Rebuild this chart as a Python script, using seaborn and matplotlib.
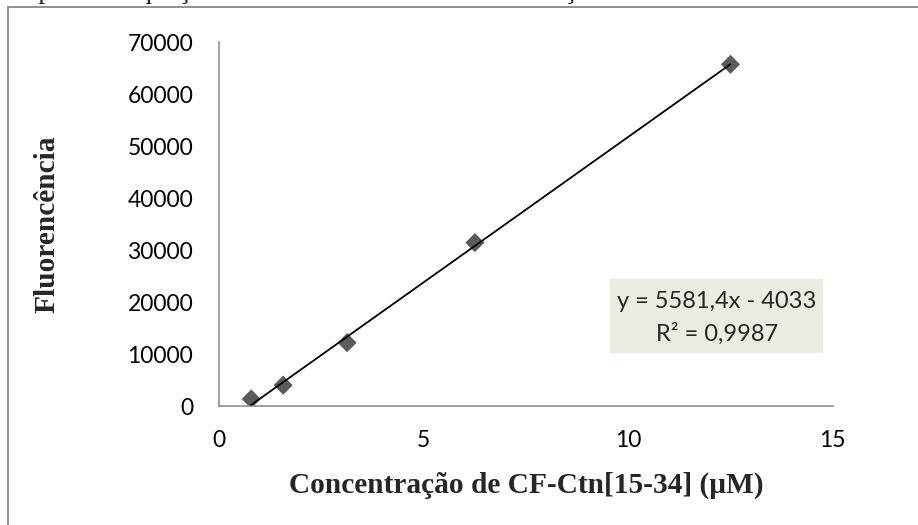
import matplotlib
matplotlib.use("Agg")
import matplotlib.pyplot as plt
import seaborn as sns
import pandas as pd
from matplotlib.patches import Rectangle
from matplotlib.lines import Line2D

# ---- data ----
concentration = [0.78125, 1.5625, 3.125, 6.25, 12.5]
fluorescence = [1400, 4060, 12240, 31470, 65760]
x_ticks = [0, 5, 10, 15]
y_ticks = [0, 10000, 20000, 30000, 40000, 50000, 60000, 70000]
x_label = "Concentração de CF-Ctn[15-34] (μM)"
y_label = "Fluorencência"
equation_text = "y = 5581,4x - 4033"
r2_text = "R² = 0,9987"
caption_text = "respectiva equação da reta e coeficiente de correlação linear."

df = pd.DataFrame({"x": concentration, "y": fluorescence})

sns.set_style("white")
plt.rcParams["font.family"] = ["Lato", "DejaVu Sans"]

W, H = 918, 525
fig = plt.figure(figsize=(W / 100, H / 100), dpi=100)
fig.patch.set_facecolor("white")

def fx(px):
    return px / W

def fy(py):
    return 1 - py / H

left, right, top, bottom = 219.3, 832.7, 42.3, 406.3
ax = fig.add_axes([fx(left), fy(bottom), fx(right) - fx(left), fy(top) - fy(bottom)])

sns.regplot(data=df, x="x", y="y", ax=ax, ci=None, truncate=True,
            marker="D",
            scatter_kws=dict(s=95, color="#5b5b5b", edgecolor="none", alpha=1, zorder=2),
            line_kws=dict(color="black", lw=1.3, zorder=3))

ax.set_xlim(0, 15)
ax.set_ylim(0, 70000)
ax.set_xticks(x_ticks)
ax.set_yticks(y_ticks)
ax.set_xticklabels([str(t) for t in x_ticks])
ax.set_yticklabels([str(t) for t in y_ticks])

for s in ["top", "right"]:
    ax.spines[s].set_visible(False)
for s in ["left", "bottom"]:
    ax.spines[s].set_color("#868686")
    ax.spines[s].set_linewidth(1.1)

ax.tick_params(axis="both", which="major", direction="out", length=5.8, width=1.1,
               color="#868686", labelsize=16.5, labelcolor="black")
ax.tick_params(axis="y", pad=13)
ax.tick_params(axis="x", pad=11)

ax.set_xlabel(x_label, fontfamily="Liberation Serif", fontweight="bold", fontsize=21.2)
ax.set_ylabel(y_label, fontfamily="Liberation Serif", fontweight="bold", fontsize=21.2)
ax.xaxis.set_label_coords(0.5, (bottom - 472) / (bottom - top))
ax.yaxis.set_label_coords((60 - left) / (right - left), 0.5)

# equation box
bx0, bx1, by0, by1 = 610, 823.3, 279.3, 352.7
fig.patches.append(Rectangle((fx(bx0), fy(by1)), fx(bx1) - fx(bx0), fy(by0) - fy(by1),
                             transform=fig.transFigure, facecolor="#ECEBE1",
                             edgecolor="none", zorder=5))
cx = fx((bx0 + bx1) / 2)
fig.text(cx, fy(301.5), equation_text, ha="center", va="center", fontsize=17, zorder=6)
fig.text(cx, fy(334), r2_text, ha="center", va="center", fontsize=17, zorder=6)

# chart-area border (top and left visible)
fig.add_artist(Line2D([fx(8.3), fx(918)], [fy(7.4), fy(7.4)], transform=fig.transFigure,
                      color="#888888", lw=1.3))
fig.add_artist(Line2D([fx(8.3), fx(8.3)], [fy(7.4), fy(525)], transform=fig.transFigure,
                      color="#888888", lw=1.3))

# cropped document caption above the chart (cut off in the reference too)
fig.text(fx(6), fy(-2), caption_text, ha="left", va="baseline",
         fontfamily="Liberation Serif", fontsize=20)

fig.savefig("out.png", dpi=100)
